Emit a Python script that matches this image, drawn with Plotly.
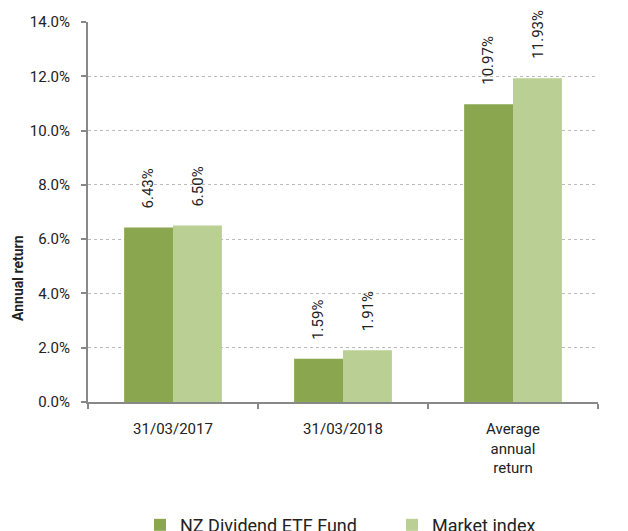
import plotly.graph_objects as go

categories = ["31/03/2017", "31/03/2018", "Average<br>annual<br>return"]
fund_values = [6.43, 1.59, 10.97]
index_values = [6.50, 1.91, 11.93]
series_names = ["NZ Dividend ETF Fund", "Market index"]
y_ticks = [0, 2, 4, 6, 8, 10, 12, 14]
y_tick_labels = [f"{v:.1f}%" for v in y_ticks]

font = "Roboto, Arial, sans-serif"
fund_color = "#8aa64e"
index_color = "#b9cf93"

# page has an 8px default body margin, so the figure is sized to fit inside
W, H = 620, 523
ML, MR, MT, MB = 80, 30, 14, 129
PW, PH = W - ML - MR, H - MT - MB

fig = go.Figure()
fig.add_trace(go.Bar(
    x=categories, y=fund_values, name=series_names[0],
    marker=dict(color=fund_color, line=dict(width=0)),
))
fig.add_trace(go.Bar(
    x=categories, y=index_values, name=series_names[1],
    marker=dict(color=index_color, line=dict(width=0)),
))

# value labels above bars (rotated)
for vals, shift in ((fund_values, -25), (index_values, 25)):
    for c, v in zip(categories, vals):
        fig.add_annotation(
            x=c, y=v, xref="x", yref="y", text=f"{v:.2f}%", showarrow=False,
            textangle=-90, xanchor="center", yanchor="bottom",
            xshift=shift, yshift=17,
            font=dict(family=font, size=15, color="#222"),
        )

fig.add_annotation(
    x=(10 - ML) / PW, y=(MT + PH - 270) / PH, xref="paper", yref="paper",
    text="<b>Annual return</b>", showarrow=False, textangle=-90,
    xanchor="center", yanchor="middle",
    font=dict(family=font, size=14, color="#222"),
)

fig.update_layout(
    width=W, height=H,
    margin=dict(l=ML, r=MR, t=MT, b=MB, autoexpand=False),
    plot_bgcolor="white", paper_bgcolor="white",
    barmode="group", bargap=0.425, bargroupgap=0.0,
    font=dict(family=font, size=15, color="#222"),
    legend=dict(orientation="h", x=(132 - ML) / PW, xanchor="left",
                y=-0.324, yanchor="middle",
                entrywidth=207, entrywidthmode="pixels",
                font=dict(family=font, size=18, color="#222"),
                traceorder="normal"),
    xaxis=dict(
        showline=True, linecolor="#888", linewidth=2,
        ticks="outside", tickson="boundaries", ticklen=5, tickcolor="#888", tickwidth=2,
        tickfont=dict(family=font, size=15, color="#222"),
        ticklabelstandoff=12,
        showgrid=False, automargin=False,
    ),
    yaxis=dict(
        range=[0, 14], tickvals=y_ticks, ticktext=y_tick_labels,
        showline=True, linecolor="#888", linewidth=2,
        ticks="outside", ticklen=5, tickcolor="#888", tickwidth=2,
        tickfont=dict(family=font, size=15, color="#222"),
        ticklabelstandoff=8,
        showgrid=True, gridcolor="#bbb", griddash="dot", gridwidth=1,
        zeroline=False, automargin=False,
    ),
)

fig.write_html("out.html")
